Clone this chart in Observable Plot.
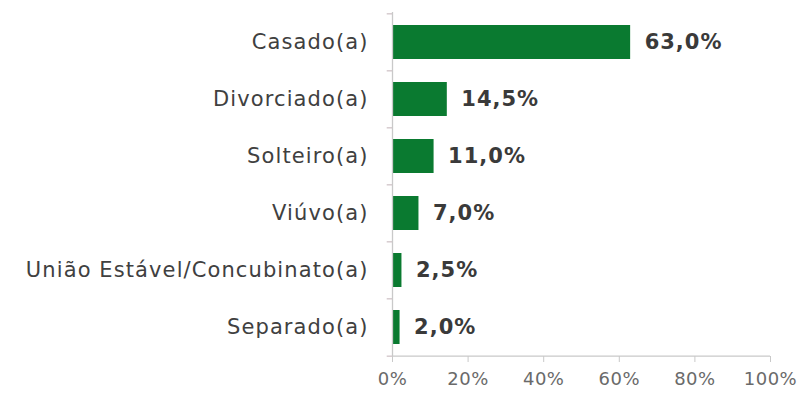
<!DOCTYPE html>
<html>
<head>
<meta charset="utf-8">
<script src="https://cdn.jsdelivr.net/npm/d3@7"></script>
<script src="https://cdn.jsdelivr.net/npm/@observablehq/plot@0.6"></script>
<style>
  html, body { margin: 0; padding: 0; background: #fff; }
  .chart text { font-family: "DejaVu Sans", sans-serif; }
  .chart g[aria-label="y-axis tick label"] text { letter-spacing: 1.1px; }
  .chart g[aria-label="text"] text { letter-spacing: 1px; }
  .chart g[aria-label="x-axis tick label"] text { letter-spacing: 0.5px; }
</style>
</head>
<body>
<div id="chart"></div>
<script>
const categories = ["Casado(a)", "Divorciado(a)", "Solteiro(a)", "Viúvo(a)", "União Estável/Concubinato(a)", "Separado(a)"];
const values = [63.0, 14.5, 11.0, 7.0, 2.5, 2.0];
const xTicks = [0, 20, 40, 60, 80, 100];

const data = categories.map((c, i) => ({category: c, value: values[i]}));

const W = 804, H = 405, mTop = 12, mBottom = 49, mLeft = 392, mRight = 34;
const step = (H - mTop - mBottom) / categories.length;
const axisColor = "#c9c9c9";
const green = "#0a7a30";

const chart = Plot.plot({
  width: W,
  height: H,
  marginTop: mTop,
  marginBottom: mBottom,
  marginLeft: mLeft,
  marginRight: mRight,
  className: "chart",
  style: {background: "#fff", overflow: "visible"},
  x: {domain: [0, 100]},
  y: {domain: categories, paddingInner: 0.41, paddingOuter: 0.205},
  marks: [
    Plot.barX(data, {x: "value", y: "category", fill: green}),
    // vertical axis line
    Plot.ruleX([0], {stroke: axisColor, strokeWidth: 1.3}),
    // small category separator ticks left of the vertical axis
    Plot.ruleY(categories, {y: d => d, dy: -step / 2, x1: -1.4, x2: 0, stroke: "#cdbfc3", strokeWidth: 1.2}),
    Plot.ruleY(categories.slice(-1), {y: d => d, dy: step / 2, x1: -1.4, x2: 0, stroke: "#cdbfc3", strokeWidth: 1.2}),
    Plot.axisY({tickSize: 0, tickPadding: 24, fontSize: 21, fill: "#404040", label: null}),
    Plot.axisX({ticks: xTicks, tickFormat: d => d + "%", tickSize: 6, tickPadding: 10, fontSize: 18, fill: "#6a6a6a", stroke: axisColor, label: null}),
    // horizontal axis line
    Plot.ruleY(categories.slice(-1), {y: d => d, dy: step / 2, x1: 0, x2: 100, stroke: axisColor, strokeWidth: 1.3}),
    Plot.text(data, {x: "value", y: "category", text: d => d.value.toFixed(1).replace(".", ",") + "%", dx: 14, textAnchor: "start", fontSize: 21, fontWeight: "bold", fill: "#3a3a3a"})
  ]
});
document.getElementById("chart").appendChild(chart);
</script>
</body>
</html>
